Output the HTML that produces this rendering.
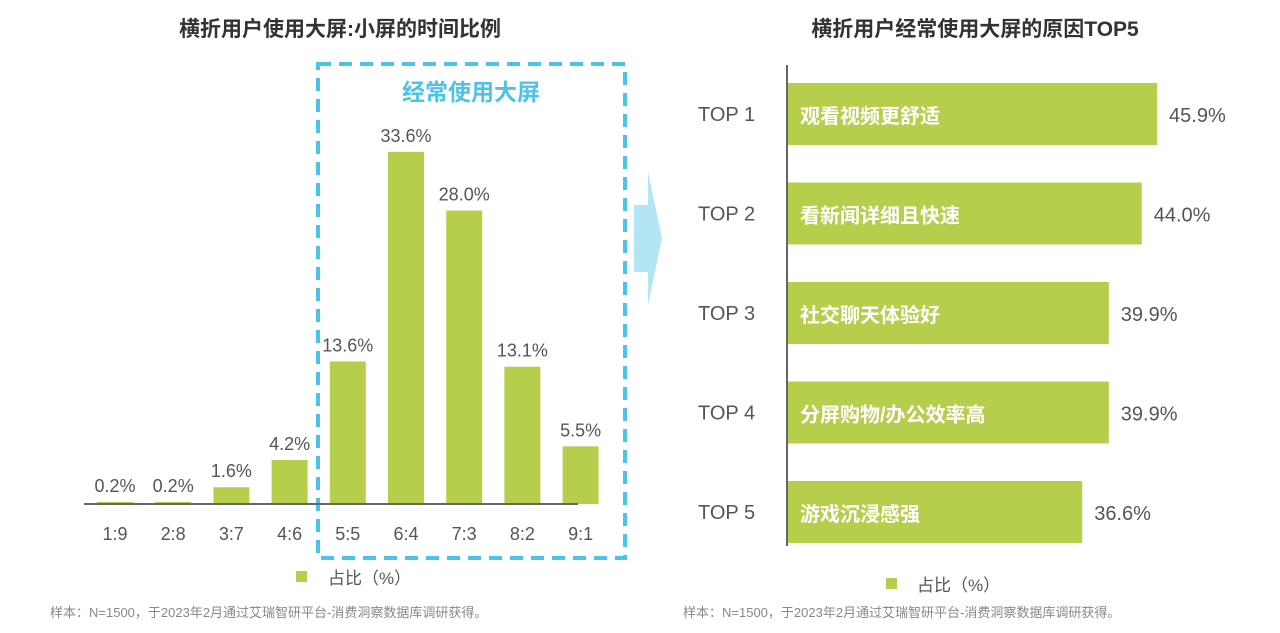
<!DOCTYPE html>
<html><head><meta charset="utf-8">
<style>
body{margin:0;background:#fff;}
svg text{font-family:"Liberation Sans","Noto Sans CJK SC",sans-serif;}
</style></head>
<body>
<svg width="1280" height="628" viewBox="0 0 1280 628">
  <text x="340" y="36" text-anchor="middle" font-size="21" font-weight="bold" fill="#333">横折用户使用大屏:小屏的时间比例</text>
  <text x="975" y="36" text-anchor="middle" font-size="21" font-weight="bold" fill="#333">横折用户经常使用大屏的原因TOP5</text>
  <rect x="318" y="64" width="307" height="494" fill="none" stroke="#4dc3ea" stroke-width="4" stroke-dasharray="13,8"/>
  <text x="471" y="100" text-anchor="middle" font-size="23" font-weight="bold" fill="#4dc3ea">经常使用大屏</text>
  <g id="left"></g>
  <line x1="84" y1="504" x2="578" y2="504" stroke="#666" stroke-width="2"/>
  <polygon points="634,205 648,205 648,172 662,238 648,305 648,272 634,272" fill="#b3e5f5"/>
  <line x1="787" y1="65" x2="787" y2="546" stroke="#666" stroke-width="2"/>
  <g id="right"></g>
  <rect x="296" y="571" width="11" height="11" fill="#b5cf4d"/>
  <text x="328" y="584" font-size="17" fill="#555">占比（%）</text>
  <rect x="886" y="578" width="11" height="11" fill="#b5cf4d"/>
  <text x="917" y="591" font-size="17" fill="#555">占比（%）</text>
  <text x="50" y="617" font-size="13" fill="#888">样本：N=1500，于2023年2月通过艾瑞智研平台-消费洞察数据库调研获得。</text>
  <text x="683" y="617" font-size="13" fill="#888">样本：N=1500，于2023年2月通过艾瑞智研平台-消费洞察数据库调研获得。</text>
</svg>
<script>
const ratioCats=["1:9","2:8","3:7","4:6","5:5","6:4","7:3","8:2","9:1"];
const ratioValues=[0.2,0.2,1.6,4.2,13.6,33.6,28.0,13.1,5.5];
const reasonRanks=["TOP 1","TOP 2","TOP 3","TOP 4","TOP 5"];
const reasonNames=["观看视频更舒适","看新闻详细且快速","社交聊天体验好","分屏购物/办公效率高","游戏沉浸感强"];
const reasonValues=[45.9,44.0,39.9,39.9,36.6];
const NS="http://www.w3.org/2000/svg";
function mk(tag,attrs,parent,txt){const e=document.createElementNS(NS,tag);for(const k in attrs)e.setAttribute(k,attrs[k]);if(txt!==undefined)e.textContent=txt;parent.appendChild(e);return e;}
const L=document.getElementById('left');
const xL=i=>115+i*58.2, yL=v=>504-v*10.48;
ratioCats.forEach((c,i)=>{
  const v=ratioValues[i];
  const r=mk('rect',{x:xL(i)-18,y:yL(v),width:36,height:Math.max(504-yL(v),1.5),fill:'#b5cf4d'},L);
  
  
  const t=mk('text',{x:xL(i),y:yL(v)-10,'text-anchor':'middle','font-size':18,fill:'#555'},L,v.toFixed(1)+'%');
  
  
  const a=mk('text',{x:xL(i),y:540,'text-anchor':'middle','font-size':18,fill:'#555'},L,c);
  
  
});
const R=document.getElementById('right');
const yR=i=>83+i*99.5, wR=v=>v*8.04;
reasonRanks.forEach((k,i)=>{
  const v=reasonValues[i];
  const r=mk('rect',{x:788,y:yR(i),width:wR(v),height:62,fill:'#b5cf4d'},R);
  
  
  const a=mk('text',{x:698,y:yR(i)+38,'font-size':20,fill:'#555'},R,k);
  
  
  const n=mk('text',{x:800,y:yR(i)+40,'font-size':20,fill:'#fff','font-weight':'bold'},R,reasonNames[i]);
  
  
  const t=mk('text',{x:788+wR(v)+12,y:yR(i)+39,'font-size':20,fill:'#555'},R,v.toFixed(1)+'%');
  
  
});
</script>
</body></html>
